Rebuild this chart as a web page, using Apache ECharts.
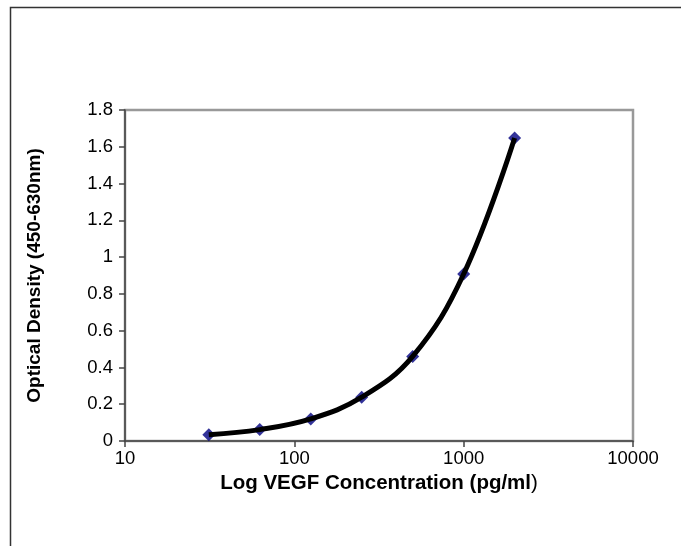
<!DOCTYPE html>
<html>
<head>
<meta charset="utf-8">
<script src="https://cdn.jsdelivr.net/npm/echarts@6/dist/echarts.min.js"></script>
<style>
html,body{margin:0;padding:0;background:#fff;}
#chart{width:681px;height:546px;}
</style>
</head>
<body>
<div id="chart"></div>
<script>
// Data
const concentrations = [31.25, 62.5, 125, 250, 500, 1000, 2000];
const opticalDensity = [0.034, 0.062, 0.12, 0.238, 0.46, 0.908, 1.648];
const xTicks = [10, 100, 1000, 10000];
const yTicks = [0, 0.2, 0.4, 0.6, 0.8, 1, 1.2, 1.4, 1.6, 1.8];
const xTitle = 'Log VEGF Concentration (pg/ml';
const yTitle = 'Optical Density (450-630nm)';

const points = concentrations.map((c, i) => [c, opticalDensity[i]]);
const font = 'Arial, "Liberation Sans", sans-serif';

const chart = echarts.init(document.getElementById('chart'), null, {renderer: 'canvas'});
chart.setOption({
  backgroundColor: '#fff',
  animation: false,
  graphic: [{
    type: 'rect',
    shape: {x: 10.5, y: 7.5, width: 1000, height: 1000},
    style: {fill: 'none', stroke: '#333', lineWidth: 1.5},
    silent: true, z: 0
  }],
  grid: {
    left: 125, top: 110, right: 48, bottom: 105,
    show: true, borderColor: '#999', borderWidth: 2.5, backgroundColor: '#fff'
  },
  xAxis: {
    type: 'log', logBase: 10,
    min: xTicks[0], max: xTicks[xTicks.length - 1],
    name: '{b|' + xTitle + '}{n|)}',
    nameLocation: 'middle', nameGap: 19,
    nameTextStyle: {
      rich: {
        b: {fontFamily: font, fontSize: 20.5, fontWeight: 'bold', color: '#000'},
        n: {fontFamily: font, fontSize: 20.5, fontWeight: 'normal', color: '#000'}
      }
    },
    axisLine: {show: true, onZero: false, lineStyle: {color: '#444', width: 1.5}},
    axisTick: {show: true, inside: false, length: 6, lineStyle: {color: '#444', width: 1.5}},
    axisLabel: {
      fontFamily: font, fontSize: 18.5, color: '#000', margin: 8,
      formatter: v => String(Math.round(v))
    },
    splitLine: {show: false},
    minorTick: {show: false}
  },
  yAxis: {
    type: 'value',
    min: yTicks[0], max: yTicks[yTicks.length - 1], interval: 0.2,
    name: yTitle,
    nameLocation: 'middle', nameRotate: 90, nameGap: 81,
    nameTextStyle: {fontFamily: font, fontSize: 19, fontWeight: 'bold', color: '#000'},
    axisLine: {show: true, lineStyle: {color: '#444', width: 1.5}},
    axisTick: {show: true, inside: false, length: 6, lineStyle: {color: '#444', width: 1.5}},
    axisLabel: {
      fontFamily: font, fontSize: 18.5, color: '#000', margin: 12,
      formatter: v => String(+v.toFixed(1))
    },
    splitLine: {show: false}
  },
  series: [
    {
      type: 'scatter',
      data: points,
      symbol: 'diamond',
      symbolSize: 13,
      itemStyle: {color: '#000080'},
      z: 2
    },
    {
      type: 'line',
      data: points,
      smooth: 0.4,
      showSymbol: false,
      symbol: 'none',
      lineStyle: {color: '#000', width: 5},
      z: 3
    }
  ]
});
</script>
</body>
</html>
